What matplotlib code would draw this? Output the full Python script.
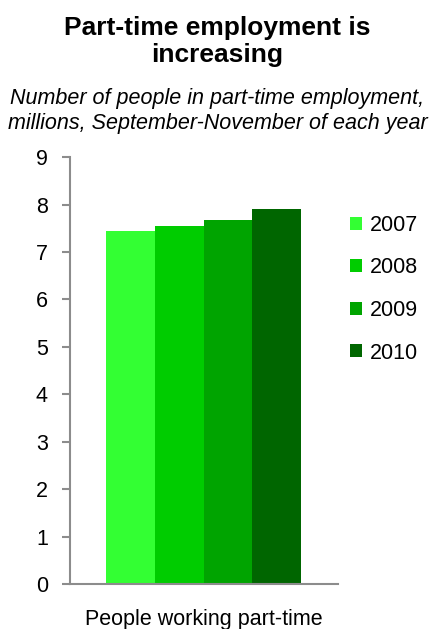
import numpy as np
from matplotlib import pyplot as plt
from matplotlib.patches import Patch

plt.rcParams["font.family"] = ["Liberation Sans", "DejaVu Sans"]

years = ["2007", "2008", "2009", "2010"]
values = [7.45, 7.55, 7.68, 7.91]
colors = ["#33ff33", "#00cc00", "#00a400", "#006600"]
category = "People working part-time"

axis_grey = "#8c8c8c"

fig = plt.figure( figsize=(4.35, 6.29), dpi=100 )
ax = fig.add_axes( [0.161, 0.0715, 0.616, 0.6786] )

pos = np.arange( len( values ) )
ax.bar( pos, values, width=1.0, color=colors, linewidth=0 )

ax.set_xlim( -1.235, 4.255 )
ax.set_ylim( 0, 9 )
ax.set_yticks( range( 0, 10 ) )
ax.set_xticks( [pos.mean()] )
ax.set_xticklabels( [category], fontsize=15.5 )
ax.tick_params( axis="x", length=0, pad=18 )
ax.tick_params( axis="y", length=6, width=1.5, color=axis_grey, labelsize=15.5, pad=10 )

for side in ["top", "right"]:
    ax.spines[side].set_visible( False )
for side in ["left", "bottom"]:
    ax.spines[side].set_color( axis_grey )
    ax.spines[side].set_linewidth( 1.5 )

handles = [Patch( facecolor=c, edgecolor="none" ) for c in colors]
ax.legend( handles, years, loc="upper left", bbox_to_anchor=(0.99, 0.9), frameon=False,
           fontsize=15.5, handlelength=0.55, handleheight=0.55, handletextpad=0.35,
           labelspacing=1.0, borderaxespad=0.3 )

fig.text( 0.5, 0.975, "Part-time employment is\nincreasing", ha="center", va="top",
          fontsize=19, fontweight="bold", linespacing=1.15 )
fig.text( 0.5, 0.86, "Number of people in part-time employment,\nmillions, September-November of each year",
          ha="center", va="top", fontsize=15.5, style="italic", linespacing=1.25 )

plt.savefig( "out.png", dpi=100 )
